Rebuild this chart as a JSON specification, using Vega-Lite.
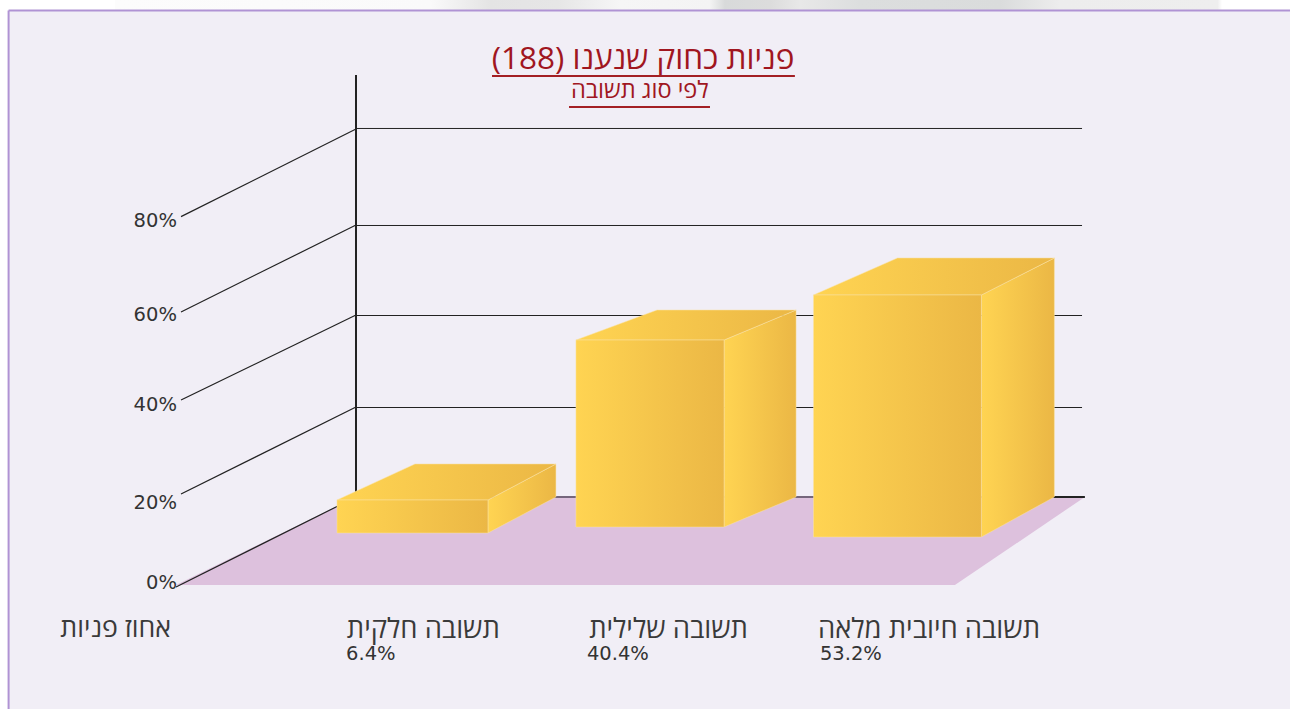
{"$schema":"https://vega.github.io/schema/vega-lite/v6.json","width":1290,"height":709,"padding":0,"autosize":{"type":"fit","contains":"padding"},"background":"#ffffff","config":{"view":{"stroke":null},"font":"DejaVu Sans","text":{"font":"DejaVu Sans"}},
"datasets":{"bars":[{"category":"תשובה חלקית","value":6.4,"slot":0},{"category":"תשובה שלילית","value":40.4,"slot":1},{"category":"תשובה חיובית מלאה","value":53.2,"slot":2}],
"ticks":[{"tick":0},{"tick":20},{"tick":40},{"tick":60},{"tick":80}],
"headings":[{"text":"פניות כחוק שנענו (188)","level":0},{"text":"לפי סוג תשובה","level":1}],
"frame":[{"part":"frame"}]},
"encoding":{"x":{"field":"x","type":"quantitative","stack":null,"axis":null,"scale":{"domain":[-1.413,3.996],"nice":false,"zero":false}},"y":{"field":"y","type":"quantitative","stack":null,"axis":null,"scale":{"domain":[-26.74,127.39],"nice":false,"zero":false}}},
"layer":[
{"data":{"name":"frame"},"transform":[{"calculate":"-0.931","as":"x"},{"calculate":"3.711","as":"xe"},{"calculate":"127.39","as":"y"},{"calculate":"125.2","as":"ye"}],"mark":{"type":"rect","color":{"gradient":"linear","x1":0,"x2":1,"y1":0,"y2":0,"stops":[{"offset":0,"color":"#fcfcfc"},{"offset":0.285,"color":"#fafafa"},{"offset":0.339,"color":"#e4e4e4"},{"offset":0.4,"color":"#e6e6e6"},{"offset":0.456,"color":"#f6f6f6"},{"offset":0.537,"color":"#f4f4f4"},{"offset":0.551,"color":"#d8dada"},{"offset":0.592,"color":"#dcdcdc"},{"offset":0.619,"color":"#e8e8e8"},{"offset":0.673,"color":"#dcdede"},{"offset":0.8,"color":"#dadcdc"},{"offset":0.854,"color":"#ededed"},{"offset":0.996,"color":"#eeeeee"},{"offset":1,"color":"#ffffff"}]}},"encoding":{"x2":{"field":"xe"},"y2":{"field":"ye"}}},
{"data":{"name":"frame"},"transform":[{"calculate":"-1.377","as":"x"},{"calculate":"3.996","as":"xe"},{"calculate":"125.1","as":"y"},{"calculate":"-26.74","as":"ye"}],"mark":{"type":"rect","fill":"#f1eef6"},"encoding":{"x2":{"field":"xe"},"y2":{"field":"ye"}}},
{"data":{"name":"frame"},"transform":[{"calculate":"-1.377","as":"x"},{"calculate":"3.996","as":"xe"},{"calculate":"125.1","as":"y"}],"mark":{"type":"rule","color":"#b093d4","strokeWidth":2,"clip":true},"encoding":{"x2":{"field":"xe"}}},
{"data":{"name":"frame"},"transform":[{"calculate":"-1.377","as":"x"},{"calculate":"125.1","as":"y"},{"calculate":"-26.74","as":"ye"}],"mark":{"type":"rule","color":"#b093d4","strokeWidth":2,"clip":true},"encoding":{"y2":{"field":"ye"}}},
{"data":{"name":"frame"},"transform":[{"calculate":"[0,1]","as":"end"},{"flatten":["end"]},{"calculate":"datum.end==0?0.22:19.35","as":"y"},{"calculate":"datum.end==0?-0.675:0.0797","as":"x"},{"calculate":"datum.end==0?2.591:3.136","as":"xe"}],"mark":{"type":"area","orient":"horizontal","color":"#ddc1dd"},"encoding":{"x2":{"field":"xe"}}},
{"data":{"name":"ticks"},"transform":[{"filter":"datum.tick>0"},{"calculate":"0.0797","as":"x"},{"calculate":"3.124","as":"xe"},{"calculate":"datum.tick+[19.35,18.80,18.80,18.37,19.46][datum.tick/20]","as":"y"}],"mark":{"type":"rule","color":"#222222","strokeWidth":1},"encoding":{"x2":{"field":"xe"}}},
{"data":{"name":"frame"},"transform":[{"calculate":"0.0797","as":"x"},{"calculate":"3.0","as":"xe"},{"calculate":"19.35","as":"y"}],"mark":{"type":"rule","color":"#75667c","strokeWidth":2},"encoding":{"x2":{"field":"xe"}}},
{"data":{"name":"frame"},"transform":[{"calculate":"3.0","as":"x"},{"calculate":"3.136","as":"xe"},{"calculate":"19.35","as":"y"}],"mark":{"type":"rule","color":"#222222","strokeWidth":2},"encoding":{"x2":{"field":"xe"}}},
{"data":{"name":"ticks"},"transform":[{"calculate":"0.0797","as":"x"},{"calculate":"datum.tick==0?-0.675:-0.654","as":"xe"},{"calculate":"datum.tick+[19.35,18.91,18.91,18.48,19.35][datum.tick/20]","as":"y"},{"calculate":"datum.tick+[-0.22,0,0.43,-0.43,0.3][datum.tick/20]","as":"ye"}],"mark":{"type":"rule","color":"#222222","strokeWidth":1.2},"encoding":{"x2":{"field":"xe"},"y2":{"field":"ye"}}},
{"data":{"name":"frame"},"transform":[{"calculate":"0.0797","as":"x"},{"calculate":"111.09","as":"y"},{"calculate":"19.35","as":"ye"}],"mark":{"type":"rule","color":"#222222","strokeWidth":2},"encoding":{"y2":{"field":"ye"}}},
{"data":{"name":"ticks"},"transform":[{"calculate":"-0.671","as":"x"},{"calculate":"[0.7,18.1,39.4,59.0,79.4][datum.tick/20]","as":"y"},{"calculate":"datum.tick+'%'","as":"label"}],"mark":{"type":"text","align":"right","baseline":"middle","fontSize":19.5,"color":"#333333"},"encoding":{"text":{"field":"label"}}},
{"data":{"name":"bars"},"transform":[{"calculate":"[0,1.002,1.998][datum.slot]","as":"xl"},{"calculate":"datum.xl+[0.633,0.621,0.704][datum.slot]","as":"xr"},{"calculate":"[11.52,12.83,10.65][datum.slot]","as":"base"},{"calculate":"datum.base+datum.value*[1.121,1.006,0.989][datum.slot]","as":"top"},{"calculate":"[0,1]","as":"end"},{"flatten":["end"]},{"calculate":"datum.xr+datum.end*[0.285,0.302,0.306][datum.slot]","as":"x"},{"calculate":"datum.top+datum.end*[7.83,6.52,8.04][datum.slot]","as":"y"},{"calculate":"datum.base+datum.end*[7.83,6.52,8.70][datum.slot]","as":"ye"}],"mark":{"type":"area","orient":"vertical","color":{"gradient":"linear","x1":0,"x2":1,"y1":0,"y2":0,"stops":[{"offset":0,"color":"#ffd452"},{"offset":1,"color":"#ebb745"}]},"stroke":"#fbe3a6","strokeWidth":1,"strokeOpacity":0.5},"encoding":{"y2":{"field":"ye"},"detail":{"field":"category"}}},
{"data":{"name":"bars"},"transform":[{"calculate":"[0,1.002,1.998][datum.slot]","as":"xl"},{"calculate":"datum.xl+[0.633,0.621,0.704][datum.slot]","as":"xr"},{"calculate":"[11.52,12.83,10.65][datum.slot]","as":"base"},{"calculate":"datum.base+datum.value*[1.121,1.006,0.989][datum.slot]","as":"top"},{"calculate":"[0,1]","as":"end"},{"flatten":["end"]},{"calculate":"datum.xl+datum.end*[0.327,0.340,0.352][datum.slot]","as":"x"},{"calculate":"datum.xr+datum.end*[0.285,0.302,0.306][datum.slot]","as":"xe"},{"calculate":"datum.top+datum.end*[7.83,6.52,8.04][datum.slot]","as":"y"}],"mark":{"type":"area","orient":"horizontal","color":{"gradient":"linear","x1":0,"x2":1,"y1":0,"y2":0,"stops":[{"offset":0,"color":"#ffd452"},{"offset":1,"color":"#ebb745"}]},"stroke":"#fbe3a6","strokeWidth":1,"strokeOpacity":0.5},"encoding":{"x2":{"field":"xe"},"detail":{"field":"category"}}},
{"data":{"name":"bars"},"transform":[{"calculate":"[0,1.002,1.998][datum.slot]","as":"x"},{"calculate":"datum.x+[0.633,0.621,0.704][datum.slot]","as":"xe"},{"calculate":"[11.52,12.83,10.65][datum.slot]","as":"ye"},{"calculate":"datum.ye+datum.value*[1.121,1.006,0.989][datum.slot]","as":"y"}],"mark":{"type":"rect","color":{"gradient":"linear","x1":0,"x2":1,"y1":0,"y2":0,"stops":[{"offset":0,"color":"#ffd452"},{"offset":1,"color":"#ebb745"}]},"stroke":"#fbe3a6","strokeWidth":1,"strokeOpacity":0.5},"encoding":{"x2":{"field":"xe"},"y2":{"field":"ye"}}},
{"data":{"name":"bars"},"transform":[{"calculate":"[0.683,1.723,2.948][datum.slot]","as":"x"},{"calculate":"-9.5","as":"y"}],"mark":{"type":"text","align":"right","baseline":"middle","fontSize":27.4,"font":"Open Sans","color":"#3a3a3a"},"encoding":{"text":{"field":"category"}}},
{"data":{"name":"bars"},"transform":[{"calculate":"[0.038,1.048,2.025][datum.slot]","as":"x"},{"calculate":"-14.78","as":"y"},{"calculate":"datum.value+'%'","as":"label"}],"mark":{"type":"text","align":"left","baseline":"middle","fontSize":19.5,"color":"#333333"},"encoding":{"text":{"field":"label"}}},
{"data":{"values":[{"label":"אחוז פניות"}]},"transform":[{"calculate":"-0.696","as":"x"},{"calculate":"-9.3","as":"y"}],"mark":{"type":"text","align":"right","baseline":"middle","fontSize":26.7,"font":"Open Sans","color":"#3a3a3a"},"encoding":{"text":{"field":"label"}}},
{"data":{"name":"headings"},"transform":[{"calculate":"[1.283,1.270][datum.level]","as":"x"},{"calculate":"[114.35,107.6][datum.level]","as":"y"}],"mark":{"type":"text","align":"center","baseline":"middle","font":"Open Sans","color":"#a0161f"},"encoding":{"text":{"field":"text"},"size":{"field":"level","type":"ordinal","legend":null,"scale":{"domain":[0,1],"range":[31.5,23.6]}}}},
{"data":{"name":"headings"},"transform":[{"calculate":"[0.65,0.973][datum.level]","as":"x"},{"calculate":"[1.92,1.564][datum.level]","as":"xe"},{"calculate":"[110.87,104.13][datum.level]","as":"y"}],"mark":{"type":"rule","color":"#a31f24","strokeWidth":2},"encoding":{"x2":{"field":"xe"}}}
]}
